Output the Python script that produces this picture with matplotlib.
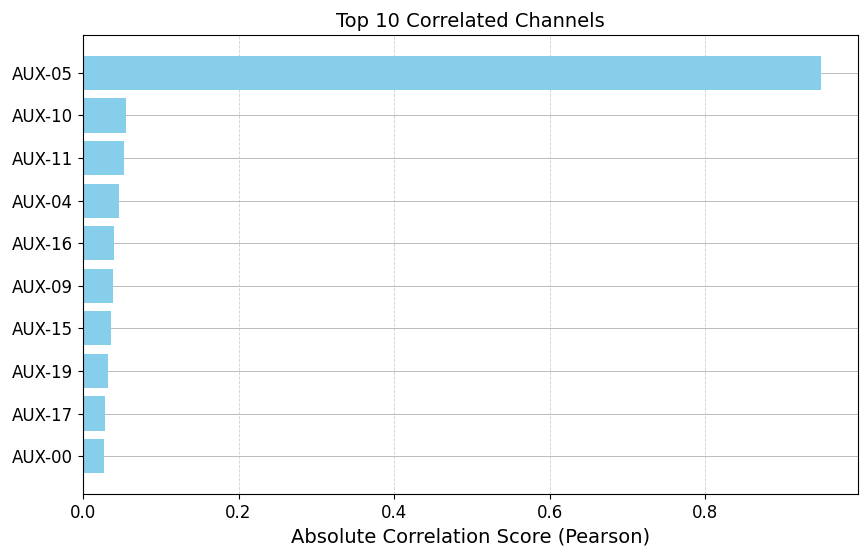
import matplotlib
matplotlib.use("Agg")
import matplotlib.pyplot as plt

channels = ["AUX-05", "AUX-10", "AUX-11", "AUX-04", "AUX-16", "AUX-09", "AUX-15", "AUX-19", "AUX-17", "AUX-00"]
scores = [0.949, 0.055, 0.053, 0.046, 0.040, 0.039, 0.036, 0.032, 0.028, 0.027]

fig = plt.figure(figsize=(8.67, 5.59), dpi=100)
ax = fig.add_axes([83/867, 1-494/559, (858-83)/867, (494-35)/559])
ax.barh(channels[::-1], scores[::-1], color="skyblue", zorder=2)
ax.grid(axis="x", linestyle="--", linewidth=0.6, alpha=0.6, zorder=0)
ax.grid(axis="y", linestyle="-", linewidth=0.7, color="#bbbbbb", zorder=0)
ax.tick_params(labelsize=12)
ax.set_xlabel("Absolute Correlation Score (Pearson)", fontsize=14)
ax.set_title("Top 10 Correlated Channels", fontsize=14)
fig.savefig("out.png", dpi=100)
